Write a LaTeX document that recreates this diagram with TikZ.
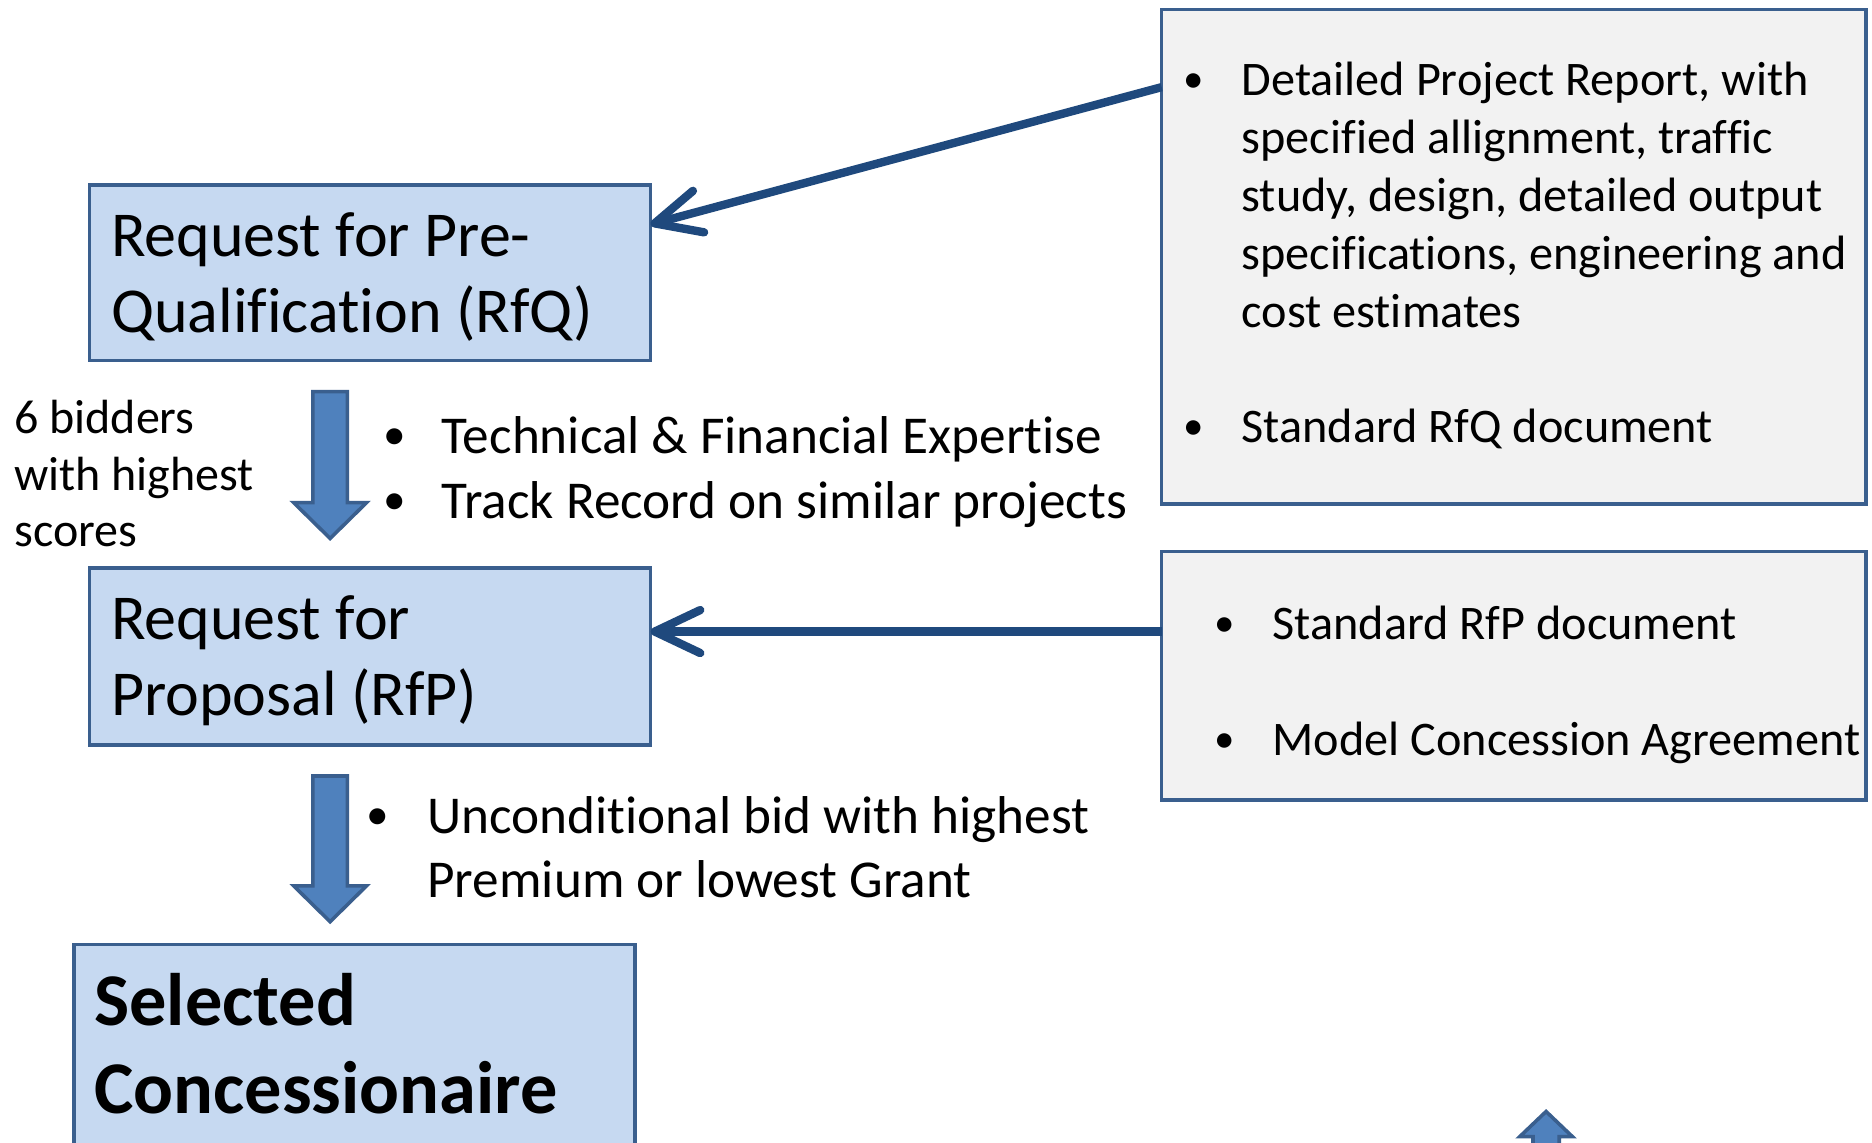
\documentclass[tikz,border=0pt]{standalone}
\usepackage{fontspec}
\setmainfont{Carlito}[Ligatures=NoCommon]
\usetikzlibrary{arrows.meta}
\definecolor{boxfill}{HTML}{C6D9F1}
\definecolor{boxline}{HTML}{3A5F8E}
\definecolor{connblue}{HTML}{1F497D}
\definecolor{arrowfill}{HTML}{4F81BD}
\definecolor{notefill}{HTML}{F2F2F2}
\newcommand{\fsz}[2]{\fontsize{#1}{#2}\selectfont}
\newcommand{\bul}[1]{\makebox[#1][l]{\hspace{1pt}\raisebox{0.07em}{\scalebox{0.85}{\textbullet}}}}
\begin{document}
\begin{tikzpicture}[x=1pt,y=-1pt,
  bluebox/.style={draw=boxline, fill=boxfill, line width=3pt, rectangle, inner sep=0pt, outer sep=0pt, anchor=north west},
  notebox/.style={draw=boxline, fill=notefill, line width=3pt, rectangle, inner sep=0pt, outer sep=0pt, anchor=north west},
  txt/.style={anchor=base west, inner sep=0pt, outer sep=0pt},
  conn/.style={draw=connblue, line width=7pt, -{Straight Barb[length=38pt,width=36pt,round]}},
  blockarrow/.style={draw=boxline, fill=arrowfill, line width=3pt, line join=miter}]
\clip (0,0) rectangle (1568,957);
\fill[white] (0,0) rectangle (1568,957);

% main process boxes
\node[bluebox, minimum width=470, minimum height=147] (rfq) at (75,155) {};
\node[bluebox, minimum width=470, minimum height=148] (rfp) at (75,476) {};
\node[bluebox, minimum width=470, minimum height=230] (sel) at (62,791) {};

\node[txt, font=\fsz{53.6}{64}] (rfqtext) at (93,214.5)
  {\begin{tabular}[t]{@{}l@{}}Request for Pre-\\Qualification (RfQ)\end{tabular}};
\node[txt, font=\fsz{53.6}{64}] (rfptext) at (93,535.5)
  {\begin{tabular}[t]{@{}l@{}}Request for\\Proposal (RfP)\end{tabular}};
\node[txt, font=\fsz{62.3}{74}\bfseries] (seltext) at (79,859)
  {\begin{tabular}[t]{@{}l@{}}Selected\\Concessionaire\end{tabular}};

% input documents
\node[notebox, minimum width=590, minimum height=414] (dpr) at (973,8) {};
\node[notebox, minimum width=590, minimum height=208] (rfpdocs) at (973,462) {};

\node[txt, font=\fsz{40.4}{48.5}] (dprtext) at (990,80)
  {\begin{tabular}[t]{@{}l@{}l@{}}
   \bul{50pt} & Detailed Project Report, with\\
    & specified allignment, traffic\\
    & study, design, detailed output\\
    & specifications, engineering and\\
    & cost estimates\\
    & \\
   \bul{50pt} & Standard RfQ document
  \end{tabular}};
\node[txt, font=\fsz{40.4}{48.5}] (rfpdoctext) at (1016,536)
  {\begin{tabular}[t]{@{}l@{}l@{}}
   \bul{50pt} & Standard RfP document\\
    & \\
   \bul{50pt} & Model Concession Agreement
  \end{tabular}};

% selection criteria
\node[txt, font=\fsz{40.2}{47.5}] (shortlist) at (12,363)
  {\begin{tabular}[t]{@{}l@{}}6 bidders\\with highest\\scores\end{tabular}};
\node[txt, font=\fsz{44.6}{54}] (criteria) at (320,380)
  {\begin{tabular}[t]{@{}l@{}l@{}}
   \bul{50pt} & Technical \& Financial Expertise\\
   \bul{50pt} & Track Record on similar projects
  \end{tabular}};
\node[txt, font=\fsz{44.6}{54}] (award) at (306,698)
  {\begin{tabular}[t]{@{}l@{}l@{}}
   \bul{52pt} & Unconditional bid with highest\\
    & Premium or lowest Grant
  \end{tabular}};

% document flows
\draw[conn] ([yshift=-65]dpr.north west) -- ([yshift=-33]rfq.north east);
\draw[conn] ([yshift=-67]rfpdocs.north west) -- ([yshift=-53]rfp.north east);

% stage arrows
\draw[blockarrow] (262,328) -- (291,328) -- (291,421) -- (307,421) -- (276.5,451)
  -- (246,421) -- (262,421) -- cycle;
\draw[blockarrow] (262,650) -- (291,650) -- (291,742) -- (307,742) -- (276.5,772)
  -- (246,742) -- (262,742) -- cycle;
\draw[blockarrow] (1284,975) -- (1284,952) -- (1273,952) -- (1295,931)
  -- (1317,952) -- (1306,952) -- (1306,975) -- cycle;
\end{tikzpicture}
\end{document}
